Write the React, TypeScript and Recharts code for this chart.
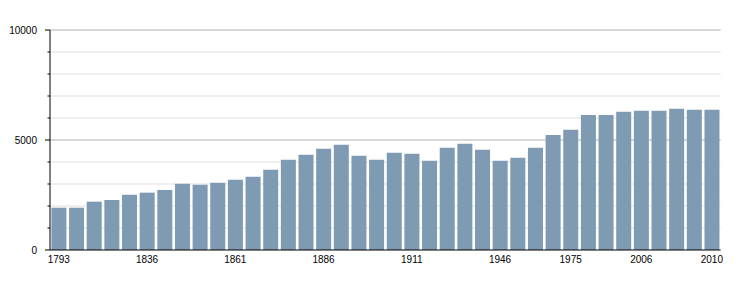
import React from 'react';
import { BarChart, Bar, XAxis, YAxis, CartesianGrid } from 'recharts';

const years = ['1793', '1800', '1806', '1821', '1831', '1836', '1841', '1846', '1851', '1856', '1861', '1866', '1872', '1876', '1881', '1886', '1891', '1896', '1901', '1906', '1911', '1921', '1926', '1931', '1936', '1946', '1954', '1962', '1968', '1975', '1982', '1990', '1999', '2006', '2007', '2008', '2009', '2010'];
const population = [1923, 1923, 2197, 2273, 2515, 2606, 2727, 3015, 2970, 3061, 3197, 3333, 3652, 4106, 4333, 4606, 4788, 4288, 4106, 4424, 4379, 4061, 4651, 4833, 4561, 4061, 4197, 4651, 5227, 5470, 6136, 6136, 6288, 6333, 6333, 6424, 6379, 6379];
const xTickLabels = ['1793', '1836', '1861', '1886', '1911', '1946', '1975', '2006', '2010'];
const yTicks = [0, 1000, 2000, 3000, 4000, 5000, 6000, 7000, 8000, 9000, 10000];
const yLabelTicks = [0, 5000, 10000];
const majorGrid = [5000, 10000];
const minorGrid = [1000, 2000, 3000, 4000, 6000, 7000, 8000, 9000];

const data = years.map((year, i) => ({ year, population: population[i] }));

const FONT = '"Liberation Sans", Arial, sans-serif';

const YTick = (props: any) => {
  const { x, y, payload } = props;
  const v = payload.value;
  const major = yLabelTicks.includes(v);
  return (
    <g>
      <line x1={x - (major ? 5 : 2.5)} x2={x} y1={y} y2={y} stroke="#000" strokeWidth={1} />
      {major && (
        <text x={x - 13} y={y} dy="0.35em" textAnchor="end" fontSize={10} fontFamily={FONT} fill="#000">
          {v}
        </text>
      )}
    </g>
  );
};

export default function App() {
  return (
    <BarChart
      width={750}
      height={292}
      data={data}
      margin={{ top: 22, right: 37.3, bottom: 20, left: 0 }}
      barCategoryGap="8%"
    >
      <CartesianGrid vertical={false} horizontalValues={minorGrid} stroke="#e0e0e0" />
      <CartesianGrid vertical={false} horizontalValues={majorGrid} stroke="#b0b0b0" />
      <XAxis
        dataKey="year"
        ticks={xTickLabels}
        interval={0}
        tickLine={false}
        tickSize={0}
        tickMargin={6}
        height={30}
        axisLine={{ stroke: '#000' }}
        tick={{ fontSize: 10, fontFamily: FONT, fill: '#000' }}
      />
      <YAxis
        width={42}
        domain={[0, 10000]}
        ticks={yTicks}
        interval={0}
        tickLine={false}
        tickSize={0}
        tickMargin={0}
        axisLine={{ stroke: '#000' }}
        tick={<YTick />}
      />
      <Bar dataKey="population" fill="#7f9ab3" isAnimationActive={false} />
    </BarChart>
  );
}
